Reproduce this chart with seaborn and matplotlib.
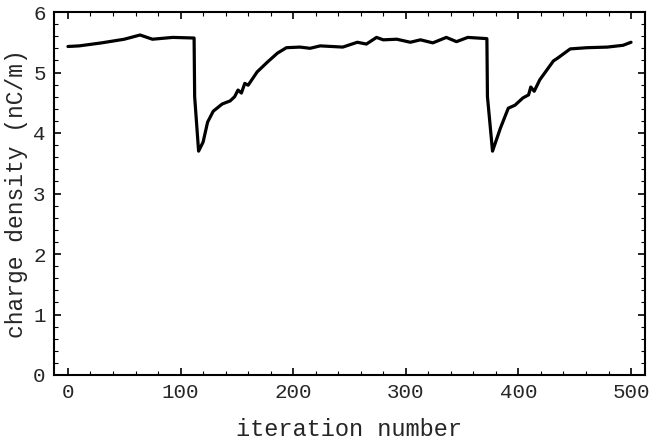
import numpy as np
import pandas as pd
import matplotlib
matplotlib.use("Agg")
import matplotlib.pyplot as plt
from matplotlib.ticker import MultipleLocator
import seaborn as sns

# values
iteration = [0, 10, 30, 50, 64, 75, 93, 112, 112.5, 116, 120, 124, 129, 137, 144, 148,
             151, 154, 157, 160, 168, 177, 186, 194, 206, 215, 224, 244, 257, 265,
             274, 280, 292, 304, 313, 324, 336, 345, 355, 372, 372.5, 377, 384, 391,
             397, 404, 409, 411, 414, 419, 431, 435, 446, 461, 479, 493, 500]
density = [5.43, 5.44, 5.49, 5.55, 5.62, 5.55, 5.58, 5.57, 4.60, 3.70, 3.85, 4.18,
           4.36, 4.48, 4.53, 4.60, 4.71, 4.66, 4.82, 4.79, 5.01, 5.17, 5.32, 5.41,
           5.42, 5.40, 5.44, 5.42, 5.50, 5.47, 5.58, 5.54, 5.55, 5.50, 5.54, 5.49,
           5.58, 5.51, 5.58, 5.56, 4.60, 3.70, 4.08, 4.41, 4.46, 4.58, 4.63, 4.76,
           4.69, 4.88, 5.19, 5.24, 5.39, 5.41, 5.42, 5.45, 5.50]

df = pd.DataFrame({"iteration": iteration, "density": density})

sns.set_style("ticks")
plt.rcParams["font.family"] = ["Liberation Mono", "DejaVu Sans"]

fig = plt.figure(figsize=(6.54, 4.47), dpi=100)
ax = fig.add_axes([54 / 654, 1 - 375 / 447, (645 - 54) / 654, (375 - 12) / 447])

sns.lineplot(data=df, x="iteration", y="density", color="black", linewidth=2.3,
             estimator=None, sort=False, ax=ax)

ax.set_xlim(-12.4, 512.4)
ax.set_ylim(0, 6)
ax.xaxis.set_major_locator(MultipleLocator(100))
ax.xaxis.set_minor_locator(MultipleLocator(20))
ax.yaxis.set_major_locator(MultipleLocator(1))
ax.yaxis.set_minor_locator(MultipleLocator(0.2))
ax.tick_params(which="both", direction="in", top=True, right=True, color="black")
ax.tick_params(which="major", length=5, width=1.2, labelsize=15, pad=6)
ax.tick_params(which="minor", length=3, width=0.8)
for s in ax.spines.values():
    s.set_linewidth(1.5)
    s.set_color("black")

ax.set_xlabel("iteration number", fontsize=17, labelpad=11)
ax.set_ylabel("charge density (nC/m)", fontsize=16.5, labelpad=4)

fig.savefig("out.png", dpi=100)
